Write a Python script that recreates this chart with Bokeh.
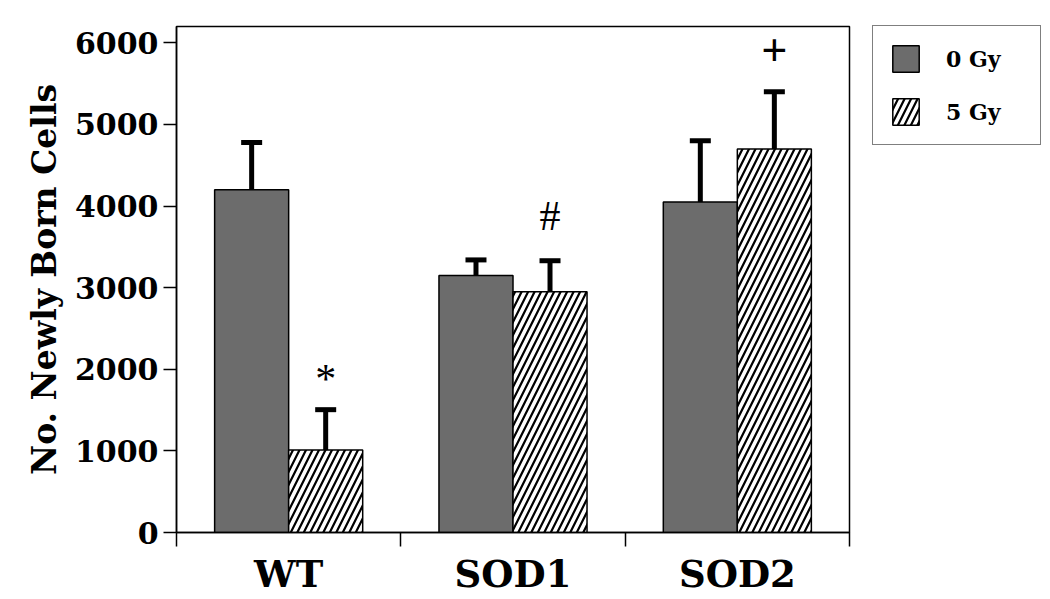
from bokeh.plotting import figure
from bokeh.models import (ColumnDataSource, FixedTicker, Range1d, Legend, LegendItem,
                          Whisker, TeeHead)
from bokeh.core.properties import value
from bokeh.embed import file_html
from bokeh.resources import INLINE

# ---- data ----
categories = ["WT", "SOD1", "SOD2"]
series = ["0 Gy", "5 Gy"]
mean_0gy = [4200, 3150, 4050]
err_0gy = [580, 190, 750]
mean_5gy = [1010, 2950, 4700]
err_5gy = [495, 380, 700]
marks = ["*", "#", "+"]
mark_y = [1880, 3880, 5900]
y_ticks = [0, 1000, 2000, 3000, 4000, 5000, 6000]

FONT = "DejaVu Serif"
MFONT = "Liberation Serif"
GRAY = "#6c6c6c"
BW = 0.33
OFF = BW / 2

centers = [i + 0.5 for i in range(len(categories))]
x0 = [c - OFF for c in centers]
x5 = [c + OFF for c in centers]

src0 = ColumnDataSource(dict(x=x0, top=mean_0gy, upper=[m + e for m, e in zip(mean_0gy, err_0gy)]))
src5 = ColumnDataSource(dict(x=x5, top=mean_5gy, upper=[m + e for m, e in zip(mean_5gy, err_5gy)]))

p = figure(frame_width=673, frame_height=506, output_backend="svg", toolbar_location=None,
           x_range=Range1d(0, len(categories)), y_range=Range1d(0, 6200),
           min_border_left=176, min_border_top=26, min_border_bottom=4, min_border_right=10)

p.xgrid.visible = False
p.ygrid.visible = False
p.outline_line_color = "black"
p.outline_line_width = 1.5
p.background_fill_color = "white"
p.border_fill_color = "white"

# error bars (drawn first so bars cover the lower part)
for src in (src0, src5):
    w = Whisker(source=src, base="x", lower="top", upper="upper", dimension="height",
                line_color="black", line_width=5,
                upper_head=TeeHead(size=21, line_width=5, line_color="black"),
                lower_head=None)
    p.add_layout(w)

r0 = p.vbar(x="x", top="top", width=BW, source=src0, fill_color=GRAY,
            line_color="black", line_width=1.5)
r5 = p.vbar(x="x", top="top", width=BW, source=src5, fill_color="white",
            line_color="black", line_width=1.5, hatch_pattern="/",
            hatch_color="black", hatch_weight=2.2, hatch_scale=13)

# significance marks
p.text(x=[x5[0], x5[1]], y=mark_y[:2], text=marks[:2], text_font=value(MFONT),
       text_font_size="42px", text_align="center", text_baseline="middle", text_color="black")
p.text(x=[x5[2]], y=mark_y[2:], text=marks[2:], text_font=value(MFONT),
       text_font_size="46px", text_font_style="bold", text_align="center",
       text_baseline="middle", text_color="black")

# y axis
ya = p.yaxis[0]
ya.ticker = FixedTicker(ticks=y_ticks, minor_ticks=[])
ya.axis_label = "No. Newly Born Cells"
ya.axis_label_text_font = FONT
ya.axis_label_text_font_style = "bold"
ya.axis_label_text_font_size = "33px"
ya.axis_label_text_color = "black"
ya.axis_label_standoff = 8
ya.major_label_text_font = FONT
ya.major_label_text_font_style = "bold"
ya.major_label_text_font_size = "30px"
ya.major_label_text_color = "black"
ya.major_tick_out = 13
ya.major_tick_in = 0
ya.major_tick_line_width = 1.5
ya.axis_line_width = 1.5
ya.major_label_standoff = 5

# x axis: labels at centers, ticks at boundaries (minor ticks)
xa = p.xaxis[0]
xa.ticker = FixedTicker(ticks=centers, minor_ticks=list(range(len(categories) + 1)))
xa.major_label_overrides = {c: lab for c, lab in zip(centers, categories)}
xa.major_label_text_font = FONT
xa.major_label_text_font_style = "bold"
xa.major_label_text_font_size = "37px"
xa.major_label_text_color = "black"
xa.major_tick_out = 0
xa.major_tick_in = 0
xa.minor_tick_out = 14
xa.minor_tick_in = 0
xa.minor_tick_line_width = 1.5
xa.minor_tick_line_color = "black"
xa.axis_line_width = 1.5
xa.major_label_standoff = 5

legend = Legend(items=[LegendItem(label=series[0], renderers=[r0]),
                       LegendItem(label=series[1], renderers=[r5])],
                location=(23, 387))
legend.margin = 0
legend.padding = 16
legend.spacing = 20
legend.glyph_width = 33
legend.glyph_height = 33
legend.label_height = 33
legend.label_width = 78
legend.label_standoff = 24
legend.label_text_font = FONT
legend.label_text_font_style = "bold"
legend.label_text_font_size = "22px"
legend.label_text_color = "black"
legend.border_line_color = "black"
legend.border_line_width = 1.5
legend.background_fill_alpha = 1
p.add_layout(legend, "right")

open("out.html", "w").write(file_html(p, INLINE))
